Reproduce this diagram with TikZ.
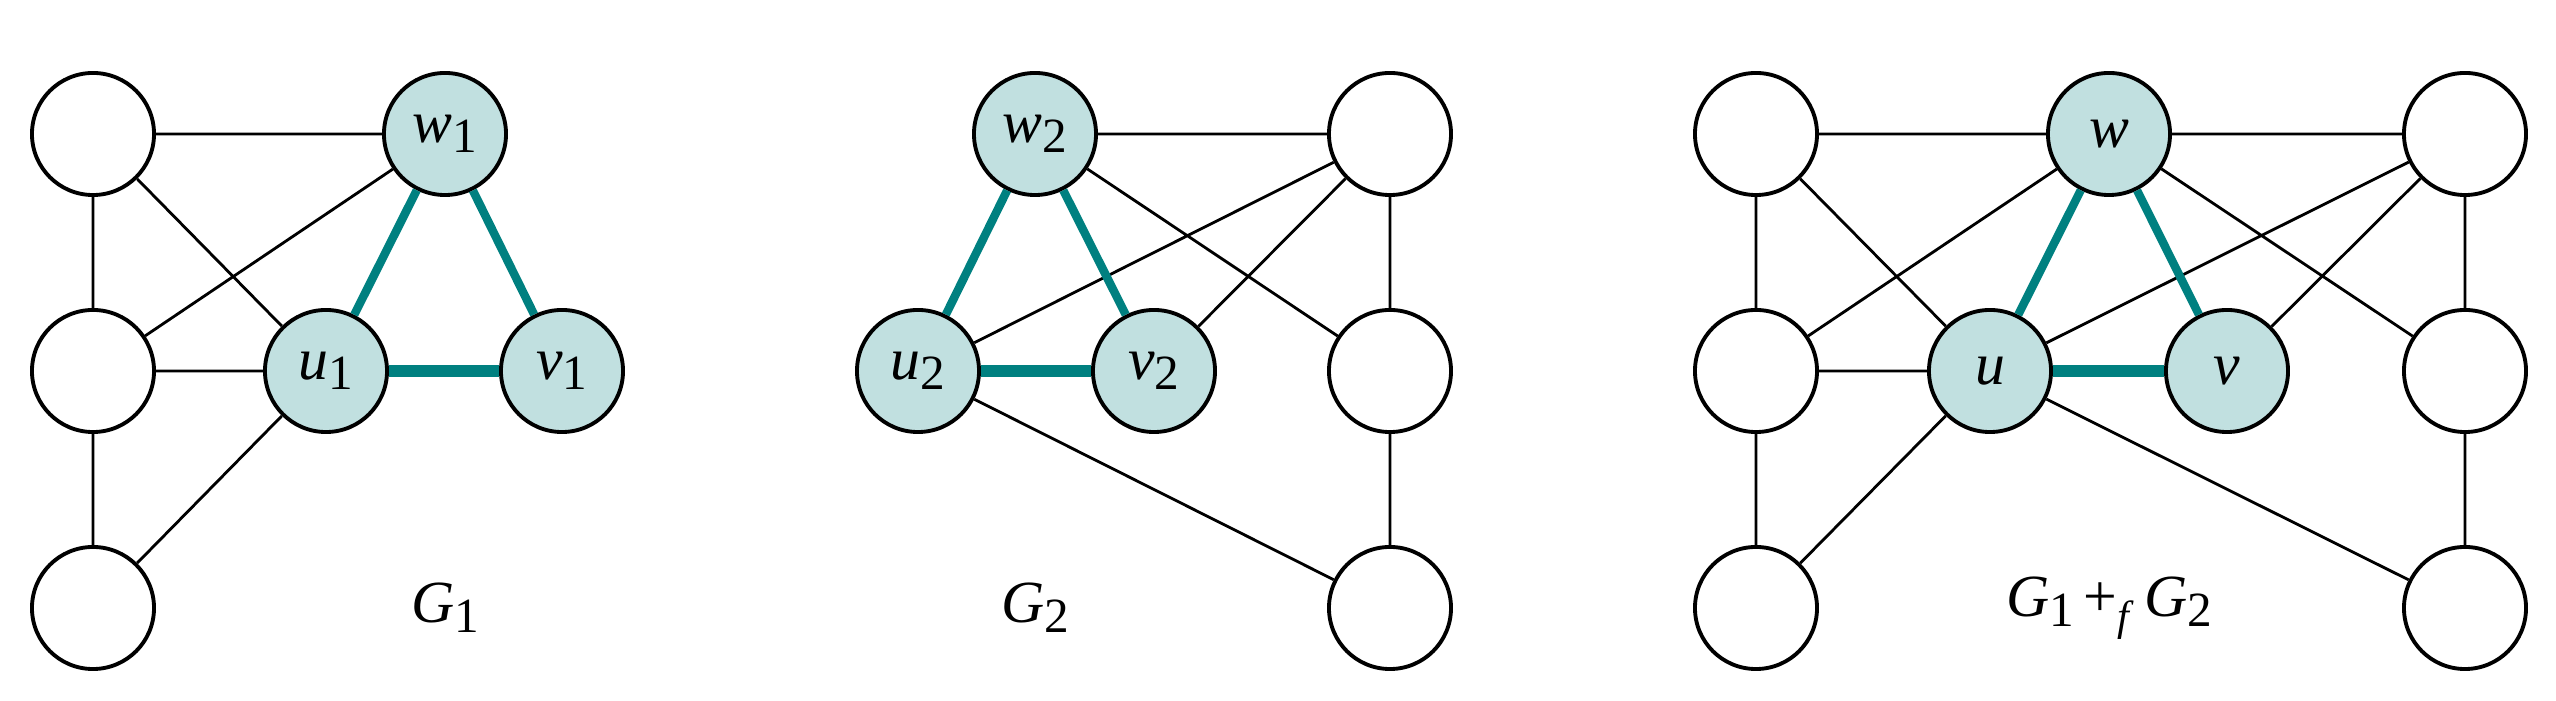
\documentclass[tikz,border=0pt]{standalone}
\usepackage{fontspec}
\setmainfont{Liberation Serif}
\newcommand{\sbx}[1]{\raisebox{-0.35ex}{\fontsize{14}{16}\selectfont #1}}
\begin{document}
\begin{tikzpicture}[x=0.01cm,y=-0.01cm,
  v/.style={circle,draw,line width=1.1pt,minimum size=1.22cm,inner sep=0pt,fill=white,font=\fontsize{17}{20}\selectfont},
  s/.style={v,fill=tealbg},
  e/.style={line width=0.8pt},
  t/.style={line width=2.4pt,draw=tealc},
  tt/.style={line width=3.2pt,draw=tealc}]
\definecolor{tealc}{RGB}{0,128,128}
\definecolor{tealbg}{RGB}{193,224,224}
\useasboundingbox (0,0) rectangle (2556,701);
% G1
\node[v] (a1) at (93,134) {};
\node[v] (a2) at (93,371) {};
\node[v] (a3) at (93,608) {};
\node[s] (w1) at (445,134) {\textit{w}\sbx{1}};
\node[s] (u1) at (326,371) {\textit{u}\sbx{1}};
\node[s] (v1) at (562,371) {\textit{v}\sbx{1}};
\node[font=\fontsize{17}{20}\selectfont] (g1) at (445,608) {\textit{G}\sbx{1}};
\draw[e] (a1)--(w1) (a1)--(a2) (a1)--(u1) (a2)--(w1) (a2)--(u1) (a2)--(a3) (a3)--(u1);
\draw[t] (w1)--(u1) (w1)--(v1);
\draw[tt] (u1)--(v1);
% G2
\node[s] (w2) at (1035,134) {\textit{w}\sbx{2}};
\node[s] (u2) at (918,371) {\textit{u}\sbx{2}};
\node[s] (v2) at (1154,371) {\textit{v}\sbx{2}};
\node[v] (b1) at (1390,134) {};
\node[v] (b2) at (1390,371) {};
\node[v] (b3) at (1390,608) {};
\node[font=\fontsize{17}{20}\selectfont] (g2) at (1035,608) {\textit{G}\sbx{2}};
\draw[e] (w2)--(b1) (w2)--(b2) (b1)--(b2) (b1)--(u2) (b1)--(v2) (b2)--(b3) (u2)--(b3);
\draw[t] (w2)--(u2) (w2)--(v2);
\draw[tt] (u2)--(v2);
% G3
\node[v] (c1) at (1756,134) {};
\node[v] (c2) at (1756,371) {};
\node[v] (c3) at (1756,608) {};
\node[s] (w) at (2109,134) {\textit{w}};
\node[s] (u) at (1990,371) {\textit{u}};
\node[s] (vv) at (2227,371) {\textit{v}};
\node[v] (d1) at (2465,134) {};
\node[v] (d2) at (2465,371) {};
\node[v] (d3) at (2465,608) {};
\node[font=\fontsize{17}{20}\selectfont] (g3) at (2109,608) {\textit{G}\sbx{1}\,+\raisebox{-0.5ex}{\fontsize{12}{14}\selectfont\textit{f}}\,\textit{G}\sbx{2}};
\draw[e] (c1)--(w) (w)--(d1) (c1)--(c2) (c1)--(u) (c2)--(w) (c2)--(u) (c2)--(c3) (c3)--(u)
  (w)--(d2) (d1)--(d2) (d1)--(u) (d1)--(vv) (d2)--(d3) (u)--(d3);
\draw[t] (w)--(u) (w)--(vv);
\draw[tt] (u)--(vv);
\end{tikzpicture}
\end{document}
